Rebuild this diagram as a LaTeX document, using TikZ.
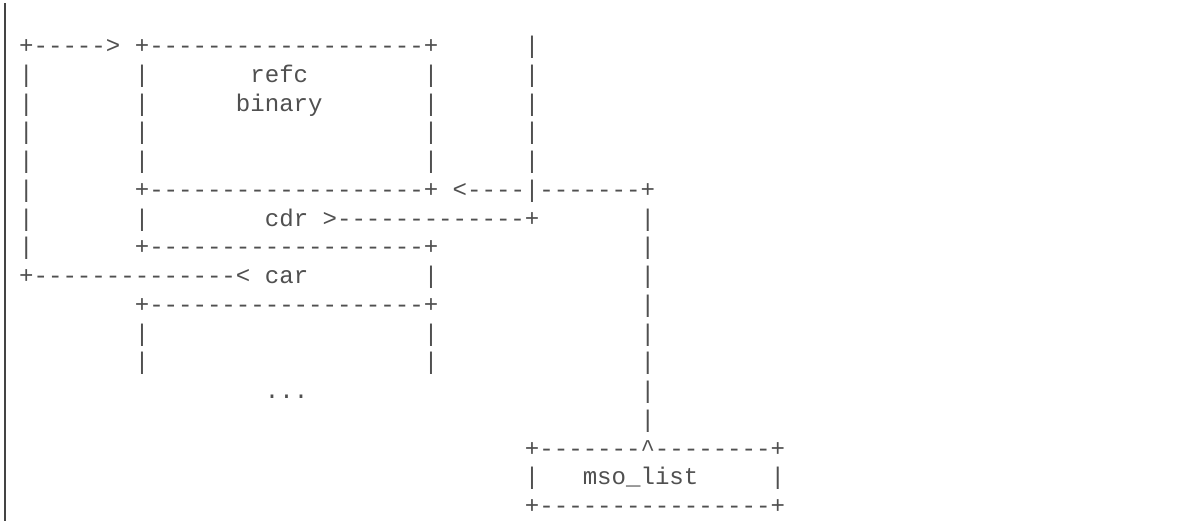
\documentclass[tikz,border=0pt]{standalone}
\usepackage{fontspec}
\newfontfamily\asciifont[Ligatures=TeXOff]{Liberation Mono}
\ExplSyntaxOn
\cs_new:Npn \dashes #1 {\prg_replicate:nn {#1} {-}}
\ExplSyntaxOff
\definecolor{ink}{HTML}{505050}
\definecolor{bar}{HTML}{444444}
\newcommand\chunk[4]{\node[asciitxt] (#1) at ({19.2+#3*14.45},{53.5+(#2-1)*28.75}) {#4};}
\begin{document}
\begin{tikzpicture}[x=0.75pt,y=-0.75pt,
  asciitxt/.style={anchor=base west, inner sep=0pt, outer sep=0pt,
    font=\asciifont\fontsize{18.06pt}{21.6pt}\selectfont, text=ink}]
\useasboundingbox (0,0) rectangle (1201,521);
\draw[line width=1.1pt, bar] (5,3) -- (5,521);
% row 1
\chunk{a1}{1}{0}{+\dashes{5}>}
\chunk{b1}{1}{8}{+\dashes{19}+}
\chunk{c1}{1}{35}{|}
% row 2
\chunk{a2}{2}{0}{|}
\chunk{b2}{2}{8}{|}
\chunk{refc}{2}{16}{refc}
\chunk{d2}{2}{28}{|}
\chunk{c2}{2}{35}{|}
% row 3
\chunk{a3}{3}{0}{|}
\chunk{b3}{3}{8}{|}
\chunk{binary}{3}{15}{binary}
\chunk{d3}{3}{28}{|}
\chunk{c3}{3}{35}{|}
% row 4
\chunk{a4}{4}{0}{|}
\chunk{b4}{4}{8}{|}
\chunk{d4}{4}{28}{|}
\chunk{c4}{4}{35}{|}
% row 5
\chunk{a5}{5}{0}{|}
\chunk{b5}{5}{8}{|}
\chunk{d5}{5}{28}{|}
\chunk{c5}{5}{35}{|}
% row 6
\chunk{a6}{6}{0}{|}
\chunk{b6}{6}{8}{+\dashes{19}+}
\chunk{c6}{6}{30}{<\dashes{4}|\dashes{7}+}
% row 7
\chunk{a7}{7}{0}{|}
\chunk{b7}{7}{8}{|}
\chunk{cdr}{7}{17}{cdr}
\chunk{cdrarr}{7}{21}{>\dashes{13}+}
\chunk{e7}{7}{43}{|}
% row 8
\chunk{a8}{8}{0}{|}
\chunk{b8}{8}{8}{+\dashes{19}+}
\chunk{e8}{8}{43}{|}
% row 9
\chunk{a9}{9}{0}{+\dashes{14}<}
\chunk{car}{9}{17}{car}
\chunk{d9}{9}{28}{|}
\chunk{e9}{9}{43}{|}
% row 10
\chunk{b10}{10}{8}{+\dashes{19}+}
\chunk{e10}{10}{43}{|}
% row 11
\chunk{b11}{11}{8}{|}
\chunk{d11}{11}{28}{|}
\chunk{e11}{11}{43}{|}
% row 12
\chunk{b12}{12}{8}{|}
\chunk{d12}{12}{28}{|}
\chunk{e12}{12}{43}{|}
% row 13
\chunk{dots}{13}{17}{...}
\chunk{e13}{13}{43}{|}
% row 14
\chunk{e14}{14}{43}{|}
% row 15
\chunk{m15}{15}{35}{+\dashes{7}\textasciicircum\dashes{8}+}
% row 16
\chunk{m16a}{16}{35}{|}
\chunk{mso}{16}{39}{mso\_list}
\chunk{m16b}{16}{52}{|}
% row 17
\chunk{m17}{17}{35}{+\dashes{16}+}
\end{tikzpicture}
\end{document}
